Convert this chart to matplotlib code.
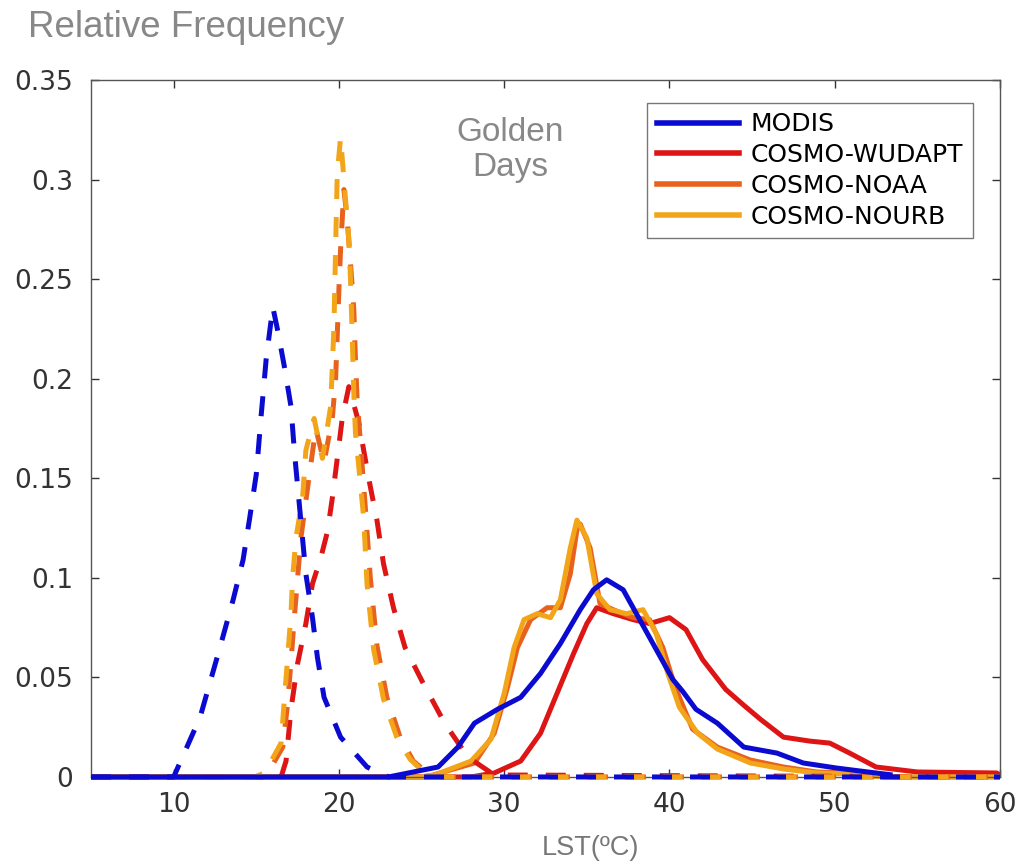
import matplotlib
matplotlib.use("Agg")
import matplotlib.pyplot as plt

# ---- data ----
series_names = ["MODIS", "COSMO-WUDAPT", "COSMO-NOAA", "COSMO-NOURB"]
series_colors = ["#0a0ad0", "#dd1515", "#e8621e", "#f3a51a"]

# Dashed curves (first distribution)
modis_d_x = [5, 10.0, 11.6, 12.8, 13.6, 14.2, 14.6, 15.0, 15.3, 15.6, 16.0, 16.3, 16.7, 17.1, 17.3, 17.5,
             18.0, 18.4, 18.7, 19.1, 20.1, 21.7, 23.0, 60]
modis_d_y = [0, 0, 0.03, 0.065, 0.089, 0.109, 0.13, 0.152, 0.182, 0.21, 0.236, 0.224, 0.206, 0.186,
             0.164, 0.146, 0.102, 0.08, 0.06, 0.04, 0.02, 0.005, 0, 0]

wudapt_d_x = [5, 16.5, 16.8, 17.1, 17.5, 18.0, 18.4, 18.9, 19.3, 19.6, 19.9, 20.2, 20.6, 21.2, 21.8,
              22.3, 22.7, 23.3, 24.0, 25.1, 26.4, 27.8, 29.4, 60]
wudapt_d_y = [0, 0, 0.008, 0.034, 0.057, 0.077, 0.097, 0.11, 0.123, 0.14, 0.16, 0.18, 0.196, 0.178,
              0.15, 0.129, 0.107, 0.085, 0.065, 0.047, 0.027, 0.01, 0.001, 0]

noaa_d_x = [5, 15.2, 15.7, 16.6, 16.9, 17.1, 17.3, 17.5, 17.7, 18.1, 18.6, 19.1, 19.6, 19.8, 19.9, 20.0,
            20.1, 20.3, 20.5, 20.7, 20.9, 21.0, 21.1, 21.3, 21.6, 21.9, 22.3, 22.9, 23.7, 24.5, 25.5, 26.2, 60]
noaa_d_y = [0, 0, 0.002, 0.015, 0.037, 0.058, 0.08, 0.1, 0.12, 0.145, 0.175, 0.158, 0.18, 0.2, 0.222,
            0.245, 0.265, 0.295, 0.28, 0.258, 0.235, 0.21, 0.19, 0.168, 0.135, 0.1, 0.066, 0.04, 0.02,
            0.008, 0.001, 0, 0]

nourb_d_x = [5, 14.9, 15.5, 16.5, 16.7, 16.9, 17.1, 17.2, 17.4, 17.8, 18.0, 18.5, 19.0, 19.5, 19.6,
             19.7, 19.75, 19.8, 19.9, 20.1, 20.4, 20.6, 20.7, 20.8, 20.9, 21.0, 21.2, 21.5, 21.7, 22.1,
             22.7, 23.5, 24.3, 25.3, 26.0, 60]
nourb_d_y = [0, 0, 0.002, 0.017, 0.039, 0.06, 0.082, 0.1, 0.12, 0.14, 0.164, 0.18, 0.16, 0.186, 0.206,
             0.226, 0.246, 0.266, 0.303, 0.321, 0.29, 0.27, 0.25, 0.223, 0.193, 0.173, 0.156, 0.13,
             0.097, 0.064, 0.039, 0.02, 0.009, 0.001, 0, 0]

# Solid curves (second distribution)
modis_s_x = [5, 23.0, 26.0, 27.2, 28.2, 29.6, 31.0, 32.2, 33.4, 34.6, 35.4, 36.2, 37.2, 38.0, 39.0,
             40.2, 40.8, 41.6, 42.9, 44.5, 46.5, 48.1, 50.1, 52.0, 53.5]
modis_s_y = [0, 0, 0.005, 0.015, 0.027, 0.034, 0.04, 0.052, 0.067, 0.084, 0.094, 0.099, 0.094, 0.082,
             0.067, 0.049, 0.043, 0.034, 0.027, 0.015, 0.012, 0.007, 0.0045, 0.0025, 0.001]

wudapt_s_x = [5, 28.0, 29.4, 31.0, 32.2, 33.2, 34.2, 35.0, 35.6, 36.6, 37.8, 38.8, 40.0, 41.0, 42.0,
              43.4, 44.5, 45.5, 46.9, 48.5, 49.7, 50.9, 52.5, 55.0, 59.8, 60]
wudapt_s_y = [0, 0, 0.002, 0.008, 0.022, 0.042, 0.062, 0.077, 0.085, 0.082, 0.079, 0.077, 0.08, 0.074,
              0.059, 0.044, 0.036, 0.029, 0.02, 0.018, 0.017, 0.012, 0.005, 0.0025, 0.002, 0.001]

noaa_s_x = [5, 25.0, 25.7, 28.2, 29.4, 30.2, 30.8, 31.6, 32.6, 33.4, 34.0, 34.4, 34.6, 35.2, 35.8, 36.6,
            37.8, 38.8, 39.6, 40.2, 40.6, 41.4, 42.9, 44.9, 46.9, 48.9, 50.9, 53.0, 60]
noaa_s_y = [0, 0, 0.001, 0.007, 0.022, 0.045, 0.065, 0.079, 0.085, 0.085, 0.102, 0.124, 0.127, 0.115,
            0.087, 0.084, 0.08, 0.079, 0.065, 0.049, 0.04, 0.024, 0.015, 0.0085, 0.005, 0.0025, 0.002,
            0, 0]

nourb_s_x = [5, 25.0, 25.8, 28.0, 29.2, 30.0, 30.6, 31.2, 32.0, 32.8, 33.4, 34.0, 34.4, 35.0, 35.6, 36.4,
             37.4, 38.4, 39.2, 39.9, 40.6, 41.7, 42.9, 44.9, 46.9, 48.9, 50.9, 53.0, 60]
nourb_s_y = [0, 0, 0.001, 0.008, 0.019, 0.042, 0.065, 0.079, 0.082, 0.08, 0.089, 0.115, 0.129, 0.12,
             0.092, 0.084, 0.082, 0.084, 0.072, 0.052, 0.035, 0.022, 0.014, 0.007, 0.004, 0.002, 0.0015,
             0, 0]

x_ticks = [10, 20, 30, 40, 50, 60]
y_ticks = [0, 0.05, 0.1, 0.15, 0.2, 0.25, 0.3, 0.35]
y_tick_labels = ["0", "0.05", "0.1", "0.15", "0.2", "0.25", "0.3", "0.35"]

# ---- figure ----
fig = plt.figure(figsize=(10.25, 8.63), dpi=100)
ax = fig.add_axes([0.0888, 0.0997, 0.8868, 0.8076])

lw = 3.6
dash = (4.0, 3.6)
dashed = [(modis_d_x, modis_d_y), (wudapt_d_x, wudapt_d_y), (noaa_d_x, noaa_d_y), (nourb_d_x, nourb_d_y)]
solid = [(modis_s_x, modis_s_y), (wudapt_s_x, wudapt_s_y), (noaa_s_x, noaa_s_y), (nourb_s_x, nourb_s_y)]

z_solid = [4, 2.2, 2.3, 2.4]
z_dash = [5, 3.2, 3.3, 3.4]
for (xs, ys), c, z in zip(solid, series_colors, z_solid):
    ax.plot(xs, ys, color=c, lw=lw, solid_capstyle="butt", solid_joinstyle="round",
            zorder=z, clip_on=False)
for (xs, ys), c, z in zip(dashed, series_colors, z_dash):
    ax.plot(xs, ys, color=c, lw=lw, linestyle=(0, dash), dash_capstyle="butt",
            zorder=z, clip_on=False)

ax.set_xlim(5, 60)
ax.set_ylim(0, 0.35)
ax.set_xticks(x_ticks)
ax.set_yticks(y_ticks)
ax.set_yticklabels(y_tick_labels)
ax.tick_params(direction="in", length=6, width=1, top=True, right=True,
               labelsize=19, colors="#333333")
ax.tick_params(axis="y", pad=13)
ax.tick_params(axis="x", pad=11)
for sp in ax.spines.values():
    sp.set_color("#555555")
    sp.set_linewidth(1.0)

# legend with proxy handles
handles = [plt.Line2D([], [], color=c, lw=4.0) for c in series_colors]
leg = ax.legend(handles, series_names, loc="upper right", bbox_to_anchor=(0.97, 0.967),
                fontsize=18, frameon=True, fancybox=False, handlelength=3.3,
                handletextpad=0.45, borderpad=0.38, labelspacing=0.27, borderaxespad=0)
leg.get_frame().set_edgecolor("#555555")
leg.get_frame().set_linewidth(1.0)
leg.set_zorder(10)

fig.text(0.027, 1 - 37 / 863, "Relative Frequency", fontsize=26.5, color="#888888",
         family="Liberation Sans", ha="left", va="baseline")
fig.text(510 / 1025, 1 - 150 / 863, "Golden\nDays", fontsize=24, color="#888888",
         family="Liberation Sans", ha="center", va="center", linespacing=1.2)
fig.text(590 / 1025, 1 - 848 / 863, "LST(ºC)", fontsize=19.5, color="#777777",
         family="Liberation Sans", ha="center", va="center")

fig.savefig("out.png", dpi=100)
